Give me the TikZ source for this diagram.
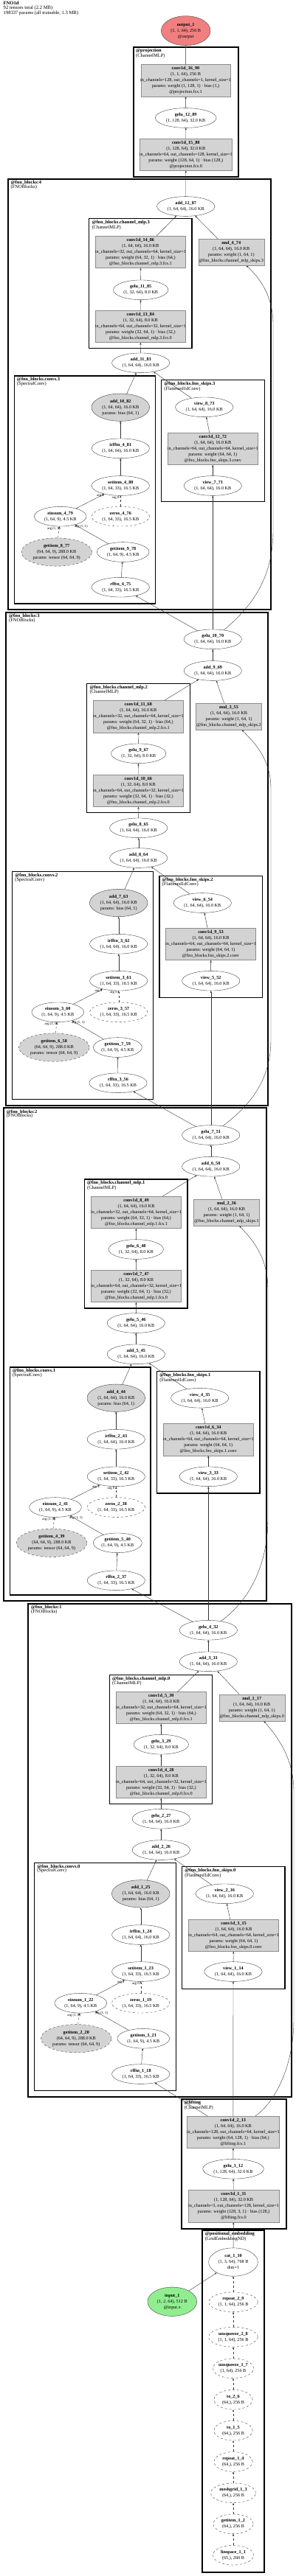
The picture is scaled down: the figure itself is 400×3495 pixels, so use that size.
\documentclass[tikz,border=0pt]{standalone}
\usepackage{fontspec}
\setmainfont{Liberation Serif}
\usetikzlibrary{arrows.meta,positioning,shapes.geometric}
\definecolor{lgray}{RGB}{211,211,211}
\definecolor{outred}{RGB}{240,128,128}
\definecolor{ingreen}{RGB}{144,238,144}
\newcommand{\nodefont}{\fontsize{6.2}{8}\selectfont}
\newcommand{\optext}[2]{\makebox[0pt]{\begin{tabular}{@{}c@{}}\textbf{#1}\\#2\end{tabular}}}

\begin{document}
\begin{tikzpicture}[
    x=1pt, y=-1pt,
    opnode/.style={ellipse, draw=black!75, line width=0.4pt, inner sep=0pt, minimum width=78.3pt, minimum height=26.7pt, font=\nodefont},
    paramop/.style={opnode, fill=lgray, minimum width=78.7pt, minimum height=37.3pt},
    constop/.style={opnode, dashed},
    weightop/.style={opnode, dashed, fill=lgray, minimum width=95.7pt, minimum height=38.3pt},
    layerbox/.style={rectangle, draw=black!45, fill=lgray, inner sep=0pt, minimum width=122pt, minimum height=43.3pt, font=\nodefont},
    mulbox/.style={layerbox, minimum width=89pt, minimum height=36pt},
    blockbox/.style={draw=black, line width=2.2pt},
    subbox/.style={draw=black, line width=1.5pt},
    clabel/.style={anchor=north west, align=left, inner sep=0pt, font=\fontsize{6.5}{5.8}\selectfont},
    flow/.style={-{Stealth[length=3pt,width=2.4pt]}, draw=black!80, line width=0.4pt},
    constflow/.style={flow, dashed},
    elabel/.style={inner sep=0.3pt, font=\fontsize{4.8}{5}\selectfont}
]
\useasboundingbox (0,0) rectangle (400,3495);

% 見出し
\node[clabel, font=\fontsize{6.6}{5.8}\selectfont] (title) at (4.5,2) {\textbf{FNO1d}\\92 tensors total (2.2 MB)\\198337 params (all trainable, 1.3 MB)};

% クラスタ
\draw[blockbox] (180.7,64) rectangle (322.7,240);
\node[clabel] (lbl_projection) at (184,66) {\textbf{@projection}\\(ChannelMLP)};
\draw[blockbox] (10.7,242.7) rectangle (367.3,827);
\node[clabel] (lbl_blocks4) at (14.5,244.7) {\textbf{@fno\_blocks:4}\\(FNOBlocks)};
\draw[subbox] (120.7,296.7) rectangle (260,472.7);
\node[clabel] (lbl_mlp3) at (124.3,298.7) {\textbf{@fno\_blocks.channel\_mlp.3}\\(ChannelMLP)};
\draw[subbox] (19.3,510) rectangle (210.7,819);
\node[clabel] (lbl_convs3) at (22.8,512) {\textbf{@fno\_blocks.convs.3}\\(SpectralConv)};
\draw[subbox] (218.7,515.7) rectangle (358.7,680.7);
\node[clabel] (lbl_skips3) at (222.2,517.7) {\textbf{@fno\_blocks.fno\_skips.3}\\(Flattened1dConv)};

\draw[blockbox] (8.3,830.7) rectangle (363.3,1500);
\node[clabel] (lbl_blocks3) at (12,832.7) {\textbf{@fno\_blocks:3}\\(FNOBlocks)};
\draw[subbox] (117.7,927.3) rectangle (257.3,1102.7);
\node[clabel] (lbl_mlp2) at (121.3,929.3) {\textbf{@fno\_blocks.channel\_mlp.2}\\(ChannelMLP)};
\draw[subbox] (16.7,1182.7) rectangle (207.7,1491.7);
\node[clabel] (lbl_convs2) at (20.2,1184.7) {\textbf{@fno\_blocks.convs.2}\\(SpectralConv)};
\draw[subbox] (216,1188.3) rectangle (355.3,1353.3);
\node[clabel] (lbl_skips2) at (219.5,1190.3) {\textbf{@fno\_blocks.fno\_skips.2}\\(Flattened1dConv)};

\draw[blockbox] (5,1503.3) rectangle (360.7,2172.3);
\node[clabel] (lbl_blocks2) at (8.7,1505.3) {\textbf{@fno\_blocks:2}\\(FNOBlocks)};
\draw[subbox] (114.3,1600) rectangle (254,1775);
\node[clabel] (lbl_mlp1) at (117.9,1602) {\textbf{@fno\_blocks.channel\_mlp.1}\\(ChannelMLP)};
\draw[subbox] (13.3,1855) rectangle (204,2164);
\node[clabel] (lbl_convs1) at (16.8,1857) {\textbf{@fno\_blocks.convs.1}\\(SpectralConv)};
\draw[subbox] (212.7,1860.7) rectangle (352,2026);
\node[clabel] (lbl_skips1) at (216.2,1862.7) {\textbf{@fno\_blocks.fno\_skips.1}\\(Flattened1dConv)};

\draw[blockbox] (38.3,2175.7) rectangle (395,2845);
\node[clabel] (lbl_blocks1) at (42,2177.7) {\textbf{@fno\_blocks:1}\\(FNOBlocks)};
\draw[subbox] (148.3,2272.3) rectangle (287.7,2447.7);
\node[clabel] (lbl_mlp0) at (151.9,2274.3) {\textbf{@fno\_blocks.channel\_mlp.0}\\(ChannelMLP)};
\draw[subbox] (46.7,2527.3) rectangle (238.7,2836.7);
\node[clabel] (lbl_convs0) at (50.2,2529.3) {\textbf{@fno\_blocks.convs.0}\\(SpectralConv)};
\draw[subbox] (246.7,2532.7) rectangle (386,2698.3);
\node[clabel] (lbl_skips0) at (250.2,2534.7) {\textbf{@fno\_blocks.fno\_skips.0}\\(Flattened1dConv)};

\draw[blockbox] (245.7,2847.7) rectangle (387.7,3024);
\node[clabel] (lbl_lifting) at (249.3,2849.7) {\textbf{@lifting}\\(ChannelMLP)};
\draw[blockbox] (274,3026) rectangle (358.3,3490);
\node[clabel] (lbl_posemb) at (277.6,3028) {\textbf{@positional\_embedding}\\(GridEmbeddingND)};

% ブロック4と出力
\node[opnode, fill=outred, minimum width=66.7pt, minimum height=40pt] (output_1) at (251.7,41.7) {\optext{output\_1}{(1, 1, 64), 256 B\\@output}};
\node[layerbox, minimum width=121.6pt] (conv1d_16_90) at (251.5,109.3) {\optext{conv1d\_16\_90}{(1, 1, 64), 256 B\\in\_channels=128, out\_channels=1, kernel\_size=1\\params: weight (1, 128, 1) · bias (1,)\\@projection.fcs.1}};
\node[opnode, minimum width=82.7pt] (gelu_12_89) at (251.7,160) {\optext{gelu\_12\_89}{(1, 128, 64), 32.0 KB}};
\node[layerbox, minimum width=125pt] (conv1d_15_88) at (251.8,209.7) {\optext{conv1d\_15\_88}{(1, 128, 64), 32.0 KB\\in\_channels=64, out\_channels=128, kernel\_size=1\\params: weight (128, 64, 1) · bias (128,)\\@projection.fcs.0}};
\node[opnode] (add_12_87) at (251.7,280) {\optext{add\_12\_87}{(1, 64, 64), 16.0 KB}};
\node[layerbox] (conv1d_14_86) at (190.3,342) {\optext{conv1d\_14\_86}{(1, 64, 64), 16.0 KB\\in\_channels=32, out\_channels=64, kernel\_size=1\\params: weight (64, 32, 1) · bias (64,)\\@fno\_blocks.channel\_mlp.3.fcs.1}};
\node[mulbox] (mul_4_74) at (313.2,342.3) {\optext{mul\_4\_74}{(1, 64, 64), 16.0 KB\\params: weight (1, 64, 1)\\@fno\_blocks.channel\_mlp\_skips.3}};
\node[opnode, minimum width=74.3pt] (gelu_11_85) at (190.7,393.3) {\optext{gelu\_11\_85}{(1, 32, 64), 8.0 KB}};
\node[layerbox] (conv1d_13_84) at (190.3,443) {\optext{conv1d\_13\_84}{(1, 32, 64), 8.0 KB\\in\_channels=64, out\_channels=32, kernel\_size=1\\params: weight (32, 64, 1) · bias (32,)\\@fno\_blocks.channel\_mlp.3.fcs.0}};
\node[opnode] (add_11_83) at (190.7,492.3) {\optext{add\_11\_83}{(1, 64, 64), 16.0 KB}};
\node[paramop] (add_10_82) at (163.3,552.7) {\optext{add\_10\_82}{(1, 64, 64), 16.0 KB\\params: bias (64, 1)}};
\node[opnode] (view_8_73) at (276.7,552.3) {\optext{view\_8\_73}{(1, 64, 64), 16.0 KB}};
\node[layerbox] (conv1d_12_72) at (288.3,609) {\optext{conv1d\_12\_72}{(1, 64, 64), 16.0 KB\\in\_channels=64, out\_channels=64, kernel\_size=1\\params: weight (64, 64, 1)\\@fno\_blocks.fno\_skips.3.conv}};
\node[opnode] (irfftn_4_81) at (163.3,608.3) {\optext{irfftn\_4\_81}{(1, 64, 64), 16.0 KB}};
\node[opnode] (view_7_71) at (288.3,659) {\optext{view\_7\_71}{(1, 64, 64), 16.0 KB}};
\node[opnode] (setitem_4_80) at (163.3,659) {\optext{setitem\_4\_80}{(1, 64, 33), 16.5 KB}};
\node[opnode, minimum width=70.7pt] (einsum_4_79) at (81.7,700.7) {\optext{einsum\_4\_79}{(1, 64, 9), 4.5 KB}};
\node[constop] (zeros_4_76) at (163.3,700.7) {\optext{zeros\_4\_76}{(1, 64, 33), 16.5 KB}};
\node[weightop] (getitem_8_77) at (76.7,749) {\optext{getitem\_8\_77}{(64, 64, 9), 288.0 KB\\params: tensor (64, 64, 9)}};
\node[opnode, minimum width=70.7pt] (getitem_9_78) at (166.7,749) {\optext{getitem\_9\_78}{(1, 64, 9), 4.5 KB}};
\node[opnode] (rfftn_4_75) at (163.3,796.7) {\optext{rfftn\_4\_75}{(1, 64, 33), 16.5 KB}};

% ブロック3
\node[opnode] (gelu_10_70) at (288.3,867.3) {\optext{gelu\_10\_70}{(1, 64, 64), 16.0 KB}};
\node[opnode] (add_9_69) at (288.3,910) {\optext{add\_9\_69}{(1, 64, 64), 16.0 KB}};
\node[layerbox] (conv1d_11_68) at (187.3,972.2) {\optext{conv1d\_11\_68}{(1, 64, 64), 16.0 KB\\in\_channels=32, out\_channels=64, kernel\_size=1\\params: weight (64, 32, 1) · bias (64,)\\@fno\_blocks.channel\_mlp.2.fcs.1}};
\node[mulbox] (mul_3_55) at (310,972.2) {\optext{mul\_3\_55}{(1, 64, 64), 16.0 KB\\params: weight (1, 64, 1)\\@fno\_blocks.channel\_mlp\_skips.2}};
\node[opnode, minimum width=74.3pt] (gelu_9_67) at (187.7,1022.3) {\optext{gelu\_9\_67}{(1, 32, 64), 8.0 KB}};
\node[layerbox] (conv1d_10_66) at (187.3,1073) {\optext{conv1d\_10\_66}{(1, 32, 64), 8.0 KB\\in\_channels=64, out\_channels=32, kernel\_size=1\\params: weight (32, 64, 1) · bias (32,)\\@fno\_blocks.channel\_mlp.2.fcs.0}};
\node[opnode] (gelu_8_65) at (187.7,1123.3) {\optext{gelu\_8\_65}{(1, 64, 64), 16.0 KB}};
\node[opnode] (add_8_64) at (187.7,1164) {\optext{add\_8\_64}{(1, 64, 64), 16.0 KB}};
\node[paramop] (add_7_63) at (160.7,1225) {\optext{add\_7\_63}{(1, 64, 64), 16.0 KB\\params: bias (64, 1)}};
\node[opnode] (view_6_54) at (274.3,1225) {\optext{view\_6\_54}{(1, 64, 64), 16.0 KB}};
\node[layerbox] (conv1d_9_53) at (285.5,1281) {\optext{conv1d\_9\_53}{(1, 64, 64), 16.0 KB\\in\_channels=64, out\_channels=64, kernel\_size=1\\params: weight (64, 64, 1)\\@fno\_blocks.fno\_skips.2.conv}};
\node[opnode] (irfftn_3_62) at (160.7,1280.7) {\optext{irfftn\_3\_62}{(1, 64, 64), 16.0 KB}};
\node[opnode] (view_5_52) at (285.7,1330.7) {\optext{view\_5\_52}{(1, 64, 64), 16.0 KB}};
\node[opnode] (setitem_3_61) at (160.7,1330.7) {\optext{setitem\_3\_61}{(1, 64, 33), 16.5 KB}};
\node[opnode, minimum width=70.7pt] (einsum_3_60) at (78.3,1373.3) {\optext{einsum\_3\_60}{(1, 64, 9), 4.5 KB}};
\node[constop] (zeros_3_57) at (160.7,1373.3) {\optext{zeros\_3\_57}{(1, 64, 33), 16.5 KB}};
\node[weightop] (getitem_6_58) at (73.3,1421) {\optext{getitem\_6\_58}{(64, 64, 9), 288.0 KB\\params: tensor (64, 64, 9)}};
\node[opnode, minimum width=66pt] (getitem_7_59) at (159.3,1421) {\optext{getitem\_7\_59}{(1, 64, 9), 4.5 KB}};
\node[opnode] (rfftn_3_56) at (160,1469.3) {\optext{rfftn\_3\_56}{(1, 64, 33), 16.5 KB}};

% ブロック2
\node[opnode] (gelu_7_51) at (285.7,1540) {\optext{gelu\_7\_51}{(1, 64, 64), 16.0 KB}};
\node[opnode] (add_6_50) at (285.7,1582.7) {\optext{add\_6\_50}{(1, 64, 64), 16.0 KB}};
\node[layerbox] (conv1d_8_49) at (184.5,1645) {\optext{conv1d\_8\_49}{(1, 64, 64), 16.0 KB\\in\_channels=32, out\_channels=64, kernel\_size=1\\params: weight (64, 32, 1) · bias (64,)\\@fno\_blocks.channel\_mlp.1.fcs.1}};
\node[mulbox] (mul_2_36) at (307,1645) {\optext{mul\_2\_36}{(1, 64, 64), 16.0 KB\\params: weight (1, 64, 1)\\@fno\_blocks.channel\_mlp\_skips.1}};
\node[opnode, minimum width=74.3pt] (gelu_6_48) at (184.3,1695) {\optext{gelu\_6\_48}{(1, 32, 64), 8.0 KB}};
\node[layerbox] (conv1d_7_47) at (184.5,1745) {\optext{conv1d\_7\_47}{(1, 32, 64), 8.0 KB\\in\_channels=64, out\_channels=32, kernel\_size=1\\params: weight (32, 64, 1) · bias (32,)\\@fno\_blocks.channel\_mlp.1.fcs.0}};
\node[opnode] (gelu_5_46) at (184.3,1795) {\optext{gelu\_5\_46}{(1, 64, 64), 16.0 KB}};
\node[opnode] (add_5_45) at (184.3,1837.3) {\optext{add\_5\_45}{(1, 64, 64), 16.0 KB}};
\node[paramop] (add_4_44) at (157.3,1896.7) {\optext{add\_4\_44}{(1, 64, 64), 16.0 KB\\params: bias (64, 1)}};
\node[opnode] (view_4_35) at (270.7,1896.7) {\optext{view\_4\_35}{(1, 64, 64), 16.0 KB}};
\node[layerbox] (conv1d_6_34) at (282.3,1953.3) {\optext{conv1d\_6\_34}{(1, 64, 64), 16.0 KB\\in\_channels=64, out\_channels=64, kernel\_size=1\\params: weight (64, 64, 1)\\@fno\_blocks.fno\_skips.1.conv}};
\node[opnode] (irfftn_2_43) at (157.3,1952.7) {\optext{irfftn\_2\_43}{(1, 64, 64), 16.0 KB}};
\node[opnode] (view_3_33) at (282.3,2003.3) {\optext{view\_3\_33}{(1, 64, 64), 16.0 KB}};
\node[opnode] (setitem_2_42) at (157.3,2003.3) {\optext{setitem\_2\_42}{(1, 64, 33), 16.5 KB}};
\node[opnode, minimum width=70.7pt] (einsum_2_41) at (75,2045) {\optext{einsum\_2\_41}{(1, 64, 9), 4.5 KB}};
\node[constop] (zeros_2_38) at (157.3,2045) {\optext{zeros\_2\_38}{(1, 64, 33), 16.5 KB}};
\node[weightop] (getitem_4_39) at (70,2093.3) {\optext{getitem\_4\_39}{(64, 64, 9), 288.0 KB\\params: tensor (64, 64, 9)}};
\node[opnode, minimum width=66pt] (getitem_5_40) at (159.3,2093.3) {\optext{getitem\_5\_40}{(1, 64, 9), 4.5 KB}};
\node[opnode] (rfftn_2_37) at (157.3,2144.3) {\optext{rfftn\_2\_37}{(1, 64, 33), 16.5 KB}};

% ブロック1
\node[opnode] (gelu_4_32) at (282.3,2211.7) {\optext{gelu\_4\_32}{(1, 64, 64), 16.0 KB}};
\node[opnode] (add_3_31) at (282.3,2254.3) {\optext{add\_3\_31}{(1, 64, 64), 16.0 KB}};
\node[layerbox] (conv1d_5_30) at (218.3,2317) {\optext{conv1d\_5\_30}{(1, 64, 64), 16.0 KB\\in\_channels=32, out\_channels=64, kernel\_size=1\\params: weight (64, 32, 1) · bias (64,)\\@fno\_blocks.channel\_mlp.0.fcs.1}};
\node[mulbox] (mul_1_17) at (341.2,2316.8) {\optext{mul\_1\_17}{(1, 64, 64), 16.0 KB\\params: weight (1, 64, 1)\\@fno\_blocks.channel\_mlp\_skips.0}};
\node[opnode, minimum width=74.3pt] (gelu_3_29) at (218.3,2366.7) {\optext{gelu\_3\_29}{(1, 32, 64), 8.0 KB}};
\node[layerbox] (conv1d_4_28) at (218.3,2417.8) {\optext{conv1d\_4\_28}{(1, 32, 64), 8.0 KB\\in\_channels=64, out\_channels=32, kernel\_size=1\\params: weight (32, 64, 1) · bias (32,)\\@fno\_blocks.channel\_mlp.0.fcs.0}};
\node[opnode] (gelu_2_27) at (218.3,2467.7) {\optext{gelu\_2\_27}{(1, 64, 64), 16.0 KB}};
\node[opnode] (add_2_26) at (218.3,2510) {\optext{add\_2\_26}{(1, 64, 64), 16.0 KB}};
\node[paramop] (add_1_25) at (190.7,2569.3) {\optext{add\_1\_25}{(1, 64, 64), 16.0 KB\\params: bias (64, 1)}};
\node[opnode] (view_2_16) at (304.3,2569.3) {\optext{view\_2\_16}{(1, 64, 64), 16.0 KB}};
\node[layerbox] (conv1d_3_15) at (316.5,2625.8) {\optext{conv1d\_3\_15}{(1, 64, 64), 16.0 KB\\in\_channels=64, out\_channels=64, kernel\_size=1\\params: weight (64, 64, 1)\\@fno\_blocks.fno\_skips.0.conv}};
\node[opnode] (irfftn_1_24) at (190.7,2625) {\optext{irfftn\_1\_24}{(1, 64, 64), 16.0 KB}};
\node[opnode] (view_1_14) at (316,2675) {\optext{view\_1\_14}{(1, 64, 64), 16.0 KB}};
\node[opnode] (setitem_1_23) at (190.7,2675) {\optext{setitem\_1\_23}{(1, 64, 33), 16.5 KB}};
\node[opnode, minimum width=70.7pt] (einsum_1_22) at (109.3,2717.7) {\optext{einsum\_1\_22}{(1, 64, 9), 4.5 KB}};
\node[constop] (zeros_1_19) at (190.7,2717.7) {\optext{zeros\_1\_19}{(1, 64, 33), 16.5 KB}};
\node[weightop] (getitem_2_20) at (103.3,2765.7) {\optext{getitem\_2\_20}{(64, 64, 9), 288.0 KB\\params: tensor (64, 64, 9)}};
\node[opnode, minimum width=70.7pt] (getitem_3_21) at (194.3,2765.7) {\optext{getitem\_3\_21}{(1, 64, 9), 4.5 KB}};
\node[opnode] (rfftn_1_18) at (190.7,2814) {\optext{rfftn\_1\_18}{(1, 64, 33), 16.5 KB}};

% lifting
\node[layerbox, minimum width=125pt] (conv1d_2_13) at (315.8,2892.7) {\optext{conv1d\_2\_13}{(1, 64, 64), 16.0 KB\\in\_channels=128, out\_channels=64, kernel\_size=1\\params: weight (64, 128, 1) · bias (64,)\\@lifting.fcs.1}};
\node[opnode, minimum width=82.7pt] (gelu_1_12) at (316,2942.7) {\optext{gelu\_1\_12}{(1, 128, 64), 32.0 KB}};
\node[layerbox, minimum width=122.4pt] (conv1d_1_11) at (316.5,2993.3) {\optext{conv1d\_1\_11}{(1, 128, 64), 32.0 KB\\in\_channels=3, out\_channels=128, kernel\_size=1\\params: weight (128, 3, 1) · bias (128,)\\@lifting.fcs.0}};

% 位置埋め込みと入力
\node[opnode, minimum width=66.7pt, minimum height=38.3pt] (cat_1_10) at (316,3069) {\optext{cat\_1\_10}{(1, 3, 64), 768 B\\dim=1}};
\node[opnode, fill=ingreen, minimum width=66.7pt, minimum height=39.3pt] (input_1) at (233.3,3122.7) {\optext{input\_1}{(1, 2, 64), 512 B\\@input.x}};
\node[constop, minimum width=66.7pt] (repeat_2_9) at (316,3123.3) {\optext{repeat\_2\_9}{(1, 1, 64), 256 B}};
\node[constop, minimum width=66.7pt] (unsqueeze_2_8) at (316,3170.7) {\optext{unsqueeze\_2\_8}{(1, 1, 64), 256 B}};
\node[constop, minimum width=55pt] (unsqueeze_1_7) at (316,3213.3) {\optext{unsqueeze\_1\_7}{(1, 64), 256 B}};
\node[constop, minimum width=52.3pt] (to_2_6) at (316,3255.7) {\optext{to\_2\_6}{(64,), 256 B}};
\node[constop, minimum width=52.3pt] (to_1_5) at (316,3297.7) {\optext{to\_1\_5}{(64,), 256 B}};
\node[constop, minimum width=52.3pt] (repeat_1_4) at (316,3340) {\optext{repeat\_1\_4}{(64,), 256 B}};
\node[constop, minimum width=61pt] (meshgrid_1_3) at (316,3382.3) {\optext{meshgrid\_1\_3}{(64,), 256 B}};
\node[constop, minimum width=54pt] (getitem_1_2) at (316,3424.3) {\optext{getitem\_1\_2}{(64,), 256 B}};
\node[constop, minimum width=55pt] (linspace_1_1) at (316,3466.7) {\optext{linspace\_1\_1}{(65,), 260 B}};

% 接続: 位置埋め込み, lifting
\draw[constflow] (linspace_1_1) -- (getitem_1_2);
\draw[constflow] (getitem_1_2) -- (meshgrid_1_3);
\draw[constflow] (meshgrid_1_3) -- (repeat_1_4);
\draw[constflow] (repeat_1_4) -- (to_1_5);
\draw[constflow] (to_1_5) -- (to_2_6);
\draw[constflow] (to_2_6) -- (unsqueeze_1_7);
\draw[constflow] (unsqueeze_1_7) -- (unsqueeze_2_8);
\draw[constflow] (unsqueeze_2_8) -- (repeat_2_9);
\draw[constflow] (repeat_2_9) -- (cat_1_10);
\draw[flow] (input_1) -- (cat_1_10);
\draw[flow] (cat_1_10) -- (conv1d_1_11);
\draw[flow] (conv1d_1_11) -- (gelu_1_12);
\draw[flow] (gelu_1_12) -- (conv1d_2_13);

% 接続: ブロック1
\draw[flow] (conv1d_2_13) -- (rfftn_1_18);
\draw[flow] (conv1d_2_13) -- (view_1_14);
\draw[flow] (conv1d_2_13) .. controls (375,2850) and (398,2800) .. (398,2740) -- (398,2430) .. controls (398,2385) and (375,2355) .. (mul_1_17);
\draw[flow] (view_1_14) -- (conv1d_3_15);
\draw[flow] (conv1d_3_15) -- (view_2_16);
\draw[flow] (view_2_16) -- (add_2_26);
\draw[flow] (rfftn_1_18) -- (getitem_3_21);
\draw[flow] (getitem_3_21) -- node[elabel, at end, anchor=north west, xshift=-1pt] (arg_b1) {arg (1, 1)} (einsum_1_22);
\draw[constflow] (getitem_2_20) -- node[elabel, at end, anchor=north east, xshift=2pt] (arg_a1) {arg (1, 0)} (einsum_1_22);
\draw[flow] (einsum_1_22) -- node[elabel, at end, anchor=north east] (arg_c1) {arg 2} (setitem_1_23);
\draw[constflow] (zeros_1_19) -- node[elabel, at end, anchor=north east, xshift=-1.5pt] (arg_d1) {arg 0} (setitem_1_23);
\draw[flow] (setitem_1_23) -- (irfftn_1_24);
\draw[flow] (irfftn_1_24) -- (add_1_25);
\draw[flow] (add_1_25) -- (add_2_26);
\draw[flow] (add_2_26) -- (gelu_2_27);
\draw[flow] (gelu_2_27) -- (conv1d_4_28);
\draw[flow] (conv1d_4_28) -- (gelu_3_29);
\draw[flow] (gelu_3_29) -- (conv1d_5_30);
\draw[flow] (conv1d_5_30) -- (add_3_31);
\draw[flow] (mul_1_17) -- (add_3_31);
\draw[flow] (add_3_31) -- (gelu_4_32);

% 接続: ブロック2
\draw[flow] (gelu_4_32) -- (rfftn_2_37);
\draw[flow] (gelu_4_32) -- (view_3_33);
\draw[flow] (gelu_4_32) .. controls (340,2170) and (363,2120) .. (363,2060) -- (363,1750) .. controls (363,1705) and (342,1682) .. (mul_2_36);
\draw[flow] (view_3_33) -- (conv1d_6_34);
\draw[flow] (conv1d_6_34) -- (view_4_35);
\draw[flow] (view_4_35) -- (add_5_45);
\draw[flow] (rfftn_2_37) -- (getitem_5_40);
\draw[flow] (getitem_5_40) -- node[elabel, at end, anchor=north west, xshift=-1pt] (arg_b2) {arg (1, 1)} (einsum_2_41);
\draw[constflow] (getitem_4_39) -- node[elabel, at end, anchor=north east, xshift=2pt] (arg_a2) {arg (1, 0)} (einsum_2_41);
\draw[flow] (einsum_2_41) -- node[elabel, at end, anchor=north east] (arg_c2) {arg 2} (setitem_2_42);
\draw[constflow] (zeros_2_38) -- node[elabel, at end, anchor=north east, xshift=-1.5pt] (arg_d2) {arg 0} (setitem_2_42);
\draw[flow] (setitem_2_42) -- (irfftn_2_43);
\draw[flow] (irfftn_2_43) -- (add_4_44);
\draw[flow] (add_4_44) -- (add_5_45);
\draw[flow] (add_5_45) -- (gelu_5_46);
\draw[flow] (gelu_5_46) -- (conv1d_7_47);
\draw[flow] (conv1d_7_47) -- (gelu_6_48);
\draw[flow] (gelu_6_48) -- (conv1d_8_49);
\draw[flow] (conv1d_8_49) -- (add_6_50);
\draw[flow] (mul_2_36) -- (add_6_50);
\draw[flow] (add_6_50) -- (gelu_7_51);

% 接続: ブロック3
\draw[flow] (gelu_7_51) -- (rfftn_3_56);
\draw[flow] (gelu_7_51) -- (view_5_52);
\draw[flow] (gelu_7_51) .. controls (345,1495) and (367,1460) .. (367,1410) -- (367,1070) .. controls (367,1030) and (345,1008) .. (mul_3_55);
\draw[flow] (view_5_52) -- (conv1d_9_53);
\draw[flow] (conv1d_9_53) -- (view_6_54);
\draw[flow] (view_6_54) -- (add_8_64);
\draw[flow] (rfftn_3_56) -- (getitem_7_59);
\draw[flow] (getitem_7_59) -- node[elabel, at end, anchor=north west, xshift=-1pt] (arg_b3) {arg (1, 1)} (einsum_3_60);
\draw[constflow] (getitem_6_58) -- node[elabel, at end, anchor=north east, xshift=2pt] (arg_a3) {arg (1, 0)} (einsum_3_60);
\draw[flow] (einsum_3_60) -- node[elabel, at end, anchor=north east] (arg_c3) {arg 2} (setitem_3_61);
\draw[constflow] (zeros_3_57) -- node[elabel, at end, anchor=north east, xshift=-1.5pt] (arg_d3) {arg 0} (setitem_3_61);
\draw[flow] (setitem_3_61) -- (irfftn_3_62);
\draw[flow] (irfftn_3_62) -- (add_7_63);
\draw[flow] (add_7_63) -- (add_8_64);
\draw[flow] (add_8_64) -- (gelu_8_65);
\draw[flow] (gelu_8_65) -- (conv1d_10_66);
\draw[flow] (conv1d_10_66) -- (gelu_9_67);
\draw[flow] (gelu_9_67) -- (conv1d_11_68);
\draw[flow] (conv1d_11_68) -- (add_9_69);
\draw[flow] (mul_3_55) -- (add_9_69);
\draw[flow] (add_9_69) -- (gelu_10_70);

% 接続: ブロック4, projection
\draw[flow] (gelu_10_70) -- (rfftn_4_75);
\draw[flow] (gelu_10_70) -- (view_7_71);
\draw[flow] (gelu_10_70) .. controls (345,820) and (370,780) .. (370,720) -- (370,440) .. controls (370,400) and (350,375) .. (mul_4_74);
\draw[flow] (view_7_71) -- (conv1d_12_72);
\draw[flow] (conv1d_12_72) -- (view_8_73);
\draw[flow] (view_8_73) -- (add_11_83);
\draw[flow] (rfftn_4_75) -- (getitem_9_78);
\draw[flow] (getitem_9_78) -- node[elabel, at end, anchor=north west, xshift=-1pt] (arg_b4) {arg (1, 1)} (einsum_4_79);
\draw[constflow] (getitem_8_77) -- node[elabel, at end, anchor=north east, xshift=2pt] (arg_a4) {arg (1, 0)} (einsum_4_79);
\draw[flow] (einsum_4_79) -- node[elabel, at end, anchor=north east] (arg_c4) {arg 2} (setitem_4_80);
\draw[constflow] (zeros_4_76) -- node[elabel, at end, anchor=north east, xshift=-1.5pt] (arg_d4) {arg 0} (setitem_4_80);
\draw[flow] (setitem_4_80) -- (irfftn_4_81);
\draw[flow] (irfftn_4_81) -- (add_10_82);
\draw[flow] (add_10_82) -- (add_11_83);
\draw[flow] (add_11_83) -- (conv1d_13_84);
\draw[flow] (conv1d_13_84) -- (gelu_11_85);
\draw[flow] (gelu_11_85) -- (conv1d_14_86);
\draw[flow] (conv1d_14_86) -- (add_12_87);
\draw[flow] (mul_4_74) -- (add_12_87);
\draw[flow] (add_12_87) -- (conv1d_15_88);
\draw[flow] (conv1d_15_88) -- (gelu_12_89);
\draw[flow] (gelu_12_89) -- (conv1d_16_90);
\draw[flow] (conv1d_16_90) -- (output_1);

\end{tikzpicture}
\end{document}
